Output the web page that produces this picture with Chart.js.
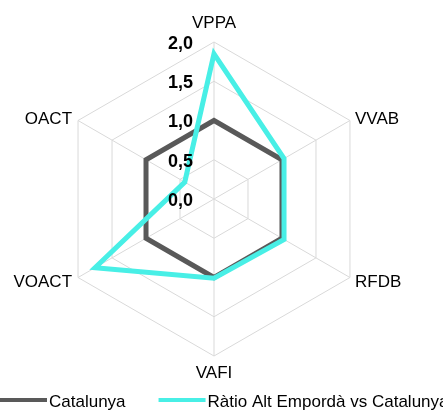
<!DOCTYPE html>
<html>
<head>
<meta charset="utf-8">
<script src="https://cdn.jsdelivr.net/npm/chart.js@4/dist/chart.umd.min.js"></script>
<style>
  html, body { margin: 0; padding: 0; background: #fff; }
  #wrap { width: 443px; height: 410px; }
</style>
</head>
<body>
<div id="wrap"><canvas id="chart"></canvas></div>
<script>
// axes, clockwise from the top
const axes = ['VPPA', 'VVAB', 'RFDB', 'VAFI', 'VOACT', 'OACT'];
const catalunya = [1, 1, 1, 1, 1, 1];
const ratioAltEmporda = [1.85, 1.03, 1.03, 1.01, 1.75, 0.43];
const tickValues = [0, 0.5, 1, 1.5, 2];

const FONT = '"Liberation Sans", Arial, sans-serif';
const GREY = '#595959';
const CYAN = '#48EFE6';

const fmt = v => v.toFixed(1).replace('.', ',');

// Excel-style axis titles, tick labels and legend
const labelsPlugin = {
    id: 'excelLabels',
    afterDatasetsDraw(chart) {
        const ctx = chart.ctx;
        const r = chart.scales.r;
        ctx.save();

        // point labels
        ctx.font = '17px ' + FONT;
        ctx.fillStyle = '#000';
        ctx.textBaseline = 'alphabetic';
        axes.forEach((name, i) => {
            const p = r.getPointPosition(i, r.drawingArea);
            const dx = p.x - r.xCenter;
            const dy = p.y - r.yCenter;
            if (Math.abs(dx) < 2) {
                ctx.textAlign = 'center';
                ctx.fillText(name, p.x, dy < 0 ? p.y - 14 : p.y + 22);
            } else {
                ctx.textAlign = dx > 0 ? 'left' : 'right';
                ctx.fillText(name, p.x + (dx > 0 ? 5 : -6), dy < 0 ? p.y + 3 : p.y + 9);
            }
        });

        // tick labels
        ctx.font = 'bold 18px ' + FONT;
        ctx.textAlign = 'right';
        ctx.textBaseline = 'middle';
        tickValues.forEach(v => {
            const y = r.yCenter - r.getDistanceFromCenterForValue(v);
            ctx.fillText(fmt(v), r.xCenter - 21, y + 2);
        });

        // legend
        ctx.font = '17px ' + FONT;
        ctx.textAlign = 'left';
        ctx.textBaseline = 'alphabetic';
        let x = 0;
        chart.data.datasets.forEach(ds => {
            ctx.strokeStyle = ds.borderColor;
            ctx.lineWidth = 4;
            ctx.lineCap = 'butt';
            ctx.beginPath();
            ctx.moveTo(x, 400);
            ctx.lineTo(x + 47, 400);
            ctx.stroke();
            ctx.fillStyle = '#000';
            ctx.fillText(ds.label, x + 49, 407);
            x += 49 + ctx.measureText(ds.label).width + 33;
        });

        ctx.restore();
    }
};

new Chart(document.getElementById('chart'), {
    type: 'radar',
    data: {
        labels: axes,
        datasets: [{
            label: 'Catalunya',
            data: catalunya,
            borderColor: GREY,
            backgroundColor: 'transparent',
            borderWidth: 5,
            pointRadius: 0,
            fill: false,
            order: 1
        }, {
            label: 'Ràtio Alt Empordà vs Catalunya',
            data: ratioAltEmporda,
            borderColor: CYAN,
            backgroundColor: 'transparent',
            borderWidth: 5,
            pointRadius: 0,
            fill: false,
            order: 0
        }]
    },
    options: {
        responsive: true,
        maintainAspectRatio: false,
        animation: false,
        layout: {padding: {left: 57, right: 72, top: 42, bottom: 54}},
        elements: {line: {tension: 0, borderJoinStyle: 'miter'}},
        plugins: {
            legend: {display: false},
            tooltip: {enabled: false}
        },
        scales: {
            r: {
                min: 0,
                max: 2,
                beginAtZero: true,
                ticks: {display: false, stepSize: 0.5},
                pointLabels: {display: false},
                grid: {color: '#d9d9d9', lineWidth: 1, circular: false},
                angleLines: {color: '#d9d9d9', lineWidth: 1}
            }
        }
    },
    plugins: [labelsPlugin]
});
</script>
</body>
</html>
